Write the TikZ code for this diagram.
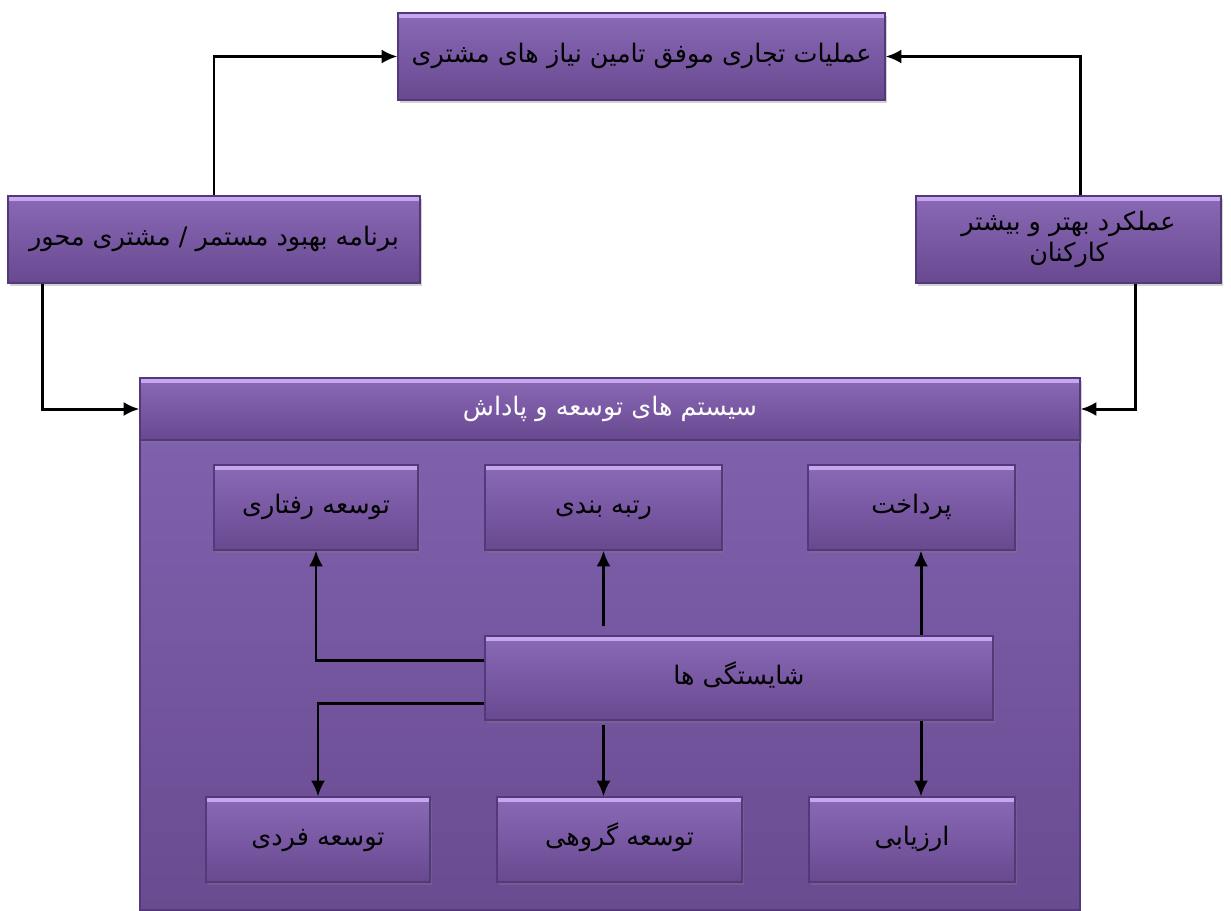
\documentclass[tikz,border=0pt]{standalone}
\usepackage{fontspec}
\TeXXeTstate=1
\newfontfamily\fa[Script=Arabic]{DejaVu Sans}
\usetikzlibrary{arrows.meta,calc,shadows}
\definecolor{ptop}{HTML}{8A69B6}
\definecolor{pbot}{HTML}{684990}
\definecolor{pedge}{HTML}{54397A}
\definecolor{plight}{HTML}{C6A6EE}
\definecolor{bgtop}{HTML}{7F60AD}
\definecolor{bgbot}{HTML}{694B91}
\tikzset{
  sz/.style 2 args={minimum width=#1*0.02cm, minimum height=#2*0.02cm},
  box/.style={rectangle, inner sep=0pt, top color=ptop, bottom color=pbot,
    draw=pedge, line width=0.6pt, font=\fa\fontsize{14.5}{20}\selectfont, text=black, align=center,
    text height=12pt, text depth=5pt,
    drop shadow={shadow xshift=0.04cm, shadow yshift=-0.05cm, opacity=0.35},
    path picture={\fill[plight] (path picture bounding box.north west) rectangle ([yshift=-0.09cm]path picture bounding box.north east);}},
  conn/.style={line width=1.7pt, draw=black, -{Latex[length=9pt,width=8pt]}},
}
\begin{document}
\begin{tikzpicture}[x=0.02cm,y=-0.02cm]
\useasboundingbox (0,0) rectangle (1231,910);
% big container
\node[rectangle, inner sep=0pt, sz={940}{470}, top color=bgtop, bottom color=bgbot, draw=pedge, line width=0.6pt] (big) at (610,675) {};
\node[box, sz={940}{62}, text=white] (hdr) at (610,409) {\beginR سیستم های توسعه و پاداش\endR};
% top nodes
\node[box, sz={487}{87}] (top) at (641.5,56.5) {\beginR عملیات تجاری موفق تامین نیاز های مشتری\endR};
\node[box, sz={412}{87}] (lft) at (214,239.5) {\beginR برنامه بهبود مستمر / مشتری محور\endR};
\node[box, sz={305}{87}, text height=, text depth=] (rgt) at (1068.5,239.5) {\beginR عملکرد بهتر و بیشتر\endR\\[-2pt]\beginR کارکنان\endR};
% inner nodes
\node[box, sz={204}{85}] (beh) at (316,507.5) {\beginR توسعه رفتاری\endR};
\node[box, sz={237}{85}] (rank) at (603.5,507.5) {\beginR رتبه بندی\endR};
\node[box, sz={207}{85}] (pay) at (911.5,507.5) {\beginR پرداخت\endR};
\node[box, sz={508}{84}] (comp) at (739,678) {\beginR شایستگی ها\endR};
\node[box, sz={224}{85}] (ind) at (318,839.5) {\beginR توسعه فردی\endR};
\node[box, sz={245}{85}] (grp) at (619.5,839.5) {\beginR توسعه گروهی\endR};
\node[box, sz={206}{85}] (eval) at (912,839.5) {\beginR ارزیابی\endR};
% outer connectors
\draw[conn] (lft.north) |- (top.west);
\draw[conn] (rgt.north -| hdr.east) |- (top.east);
\draw[conn] ([xshift=35*0.02cm]lft.south west) |- (hdr.west);
\draw[conn] ([xshift=-86*0.02cm]rgt.south east) |- (hdr.east);
% inner connectors
\draw[conn] ([yshift=18*0.02cm]comp.west) -| (beh.south);
\draw[conn] ([yshift=-25*0.02cm]comp.west) -| (ind.north);
\draw[conn] ([yshift=9*0.02cm]comp.north -| rank.south) -- (rank.south);
\draw[conn] ([yshift=-4*0.02cm]comp.south -| rank.south) -- (rank.south |- grp.north);
\draw[conn] ([xshift=182*0.02cm]comp.north) -- ([xshift=182*0.02cm]comp.north |- pay.south);
\draw[conn] ([xshift=182*0.02cm]comp.south) -- ([xshift=182*0.02cm]comp.south |- eval.north);
\end{tikzpicture}
\end{document}
